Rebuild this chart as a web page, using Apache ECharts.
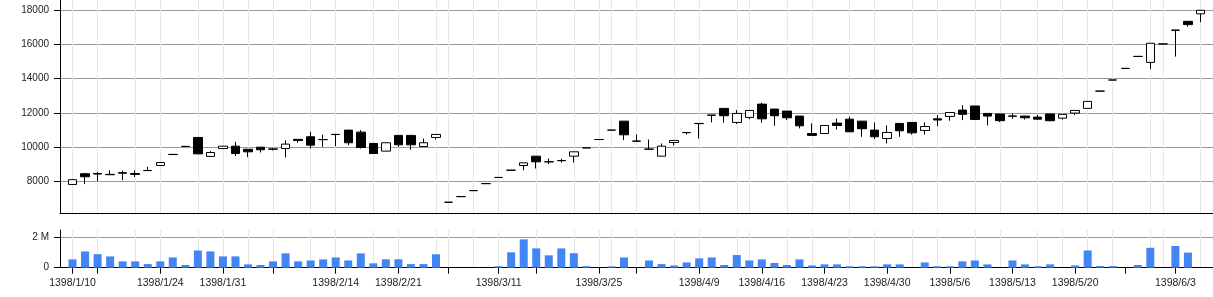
<!DOCTYPE html>
<html><head><meta charset="utf-8">
<script src="https://cdn.jsdelivr.net/npm/echarts@6/dist/echarts.min.js"></script>
<style>html,body{margin:0;padding:0;background:#fff}#c{width:1213px;height:297px}</style>
</head><body><div id="c"></div>
<script>
// Trading days (Jalali dates)
const dates = [
 '1398/1/10','1398/1/11','1398/1/17','1398/1/18','1398/1/19','1398/1/20','1398/1/21',
 '1398/1/24','1398/1/25','1398/1/26','1398/1/27','1398/1/28',
 '1398/1/31','1398/2/1','1398/2/2','1398/2/3',
 '1398/2/7','1398/2/8','1398/2/9','1398/2/10','1398/2/11',
 '1398/2/14','1398/2/15','1398/2/16','1398/2/17','1398/2/18',
 '1398/2/21','1398/2/22','1398/2/23','1398/2/24',
 '1398/2/28','1398/2/29','1398/2/30','1398/2/31',
 '1398/3/11','1398/3/12','1398/3/13',
 '1398/3/18','1398/3/19','1398/3/20','1398/3/21','1398/3/22',
 '1398/3/25','1398/3/26','1398/3/27',
 '1398/4/1','1398/4/2','1398/4/3','1398/4/4','1398/4/5',
 '1398/4/9','1398/4/10','1398/4/11','1398/4/12',
 '1398/4/15','1398/4/16','1398/4/17','1398/4/18','1398/4/19',
 '1398/4/22','1398/4/23','1398/4/24','1398/4/25','1398/4/26',
 '1398/4/29','1398/4/30','1398/4/31','1398/5/1','1398/5/2',
 '1398/5/5','1398/5/6','1398/5/7','1398/5/8','1398/5/9',
 '1398/5/12','1398/5/13','1398/5/14','1398/5/15','1398/5/16',
 '1398/5/19','1398/5/20','1398/5/21','1398/5/22','1398/5/23',
 '1398/5/27','1398/5/28','1398/5/29','1398/5/30',
 '1398/6/3','1398/6/4','1398/6/5'
];
const open  = [7810,8440,8450,8400,8500,8450,8630,8920,9570,10040,10560,9450,9910,10050,9870,9990,9890,9910,10450,10600,10440,10740,10990,10870,10210,9760,10680,10680,10030,10560,6770,7100,7450,7860,8220,8645,8920,9465,9140,9210,9465,9950,10440,10990,11515,10350,9880,9465,10265,10850,11380,11870,12260,11440,11730,12510,12220,12100,11810,10790,10790,11400,11630,11515,10990,10500,11380,11440,10970,11650,11790,12160,12400,11965,11930,11820,11810,11750,11930,11690,11985,12260,13270,13920,14600,15300,14950,16030,16840,17355,17790];
const close = [8090,8260,8420,8380,8470,8400,8620,9090,9560,10030,9600,9680,10050,9620,9720,9840,9870,10170,10380,10110,10430,10730,10250,9970,9620,10250,10130,10130,10250,10735,6770,7100,7450,7860,8220,8645,9075,9135,9130,9200,9720,9950,10440,10990,10715,10340,9870,10050,10385,10840,11370,11860,11830,11965,12140,11650,11830,11710,11240,10680,11260,11260,10890,11070,10600,10850,10950,10830,11200,11580,12020,11910,11610,11810,11540,11800,11710,11630,11540,11910,12140,12670,13270,13920,14600,15300,16070,16030,16830,17160,18000];
const low   = [7790,7830,8000,8370,8060,8250,8610,8910,9560,10030,9600,9450,9910,9480,9410,9680,9800,9390,10250,9910,10010,10050,10110,9910,9620,9760,10010,9840,10030,10440,6770,7100,7450,7860,8220,8645,8645,8745,8995,9100,9095,9950,10440,10990,10400,10340,9870,9465,10090,10735,10500,11440,11420,11340,11630,11420,11240,11575,11090,10680,10790,11020,10890,10600,10460,10210,10600,10735,10735,11220,11540,11575,11610,11260,11460,11650,11610,11575,11500,11610,11870,12260,13270,13920,14600,15300,14560,16030,15290,17040,17300];
const high  = [8110,8460,8530,8640,8610,8640,8840,9100,9570,10040,10560,9760,10060,10300,9880,9990,9950,10400,10460,10890,10720,10740,10990,10990,10210,10250,10680,10680,10500,10735,6770,7100,7450,7860,8220,8645,9075,9465,9330,9310,9720,9950,10440,10990,11515,10735,10440,10210,10385,10860,11380,11870,12260,12160,12140,12590,12220,12100,11810,11380,11260,11670,11770,11515,11440,11260,11380,11440,11440,11870,12020,12450,12400,11965,11930,11965,11820,11890,11930,11910,12140,12670,13270,13920,14600,15300,16070,16030,16840,17355,18000];
const volume = [550000,1080000,900000,750000,420000,420000,240000,420000,680000,180000,1140000,1080000,750000,750000,220000,180000,420000,950000,420000,480000,550000,680000,480000,950000,290000,560000,560000,240000,240000,890000,0,0,0,0,100000,1020000,1880000,1280000,820000,1280000,960000,100000,0,90000,680000,0,480000,240000,150000,350000,620000,680000,180000,840000,480000,550000,310000,180000,550000,150000,220000,220000,90000,90000,90000,220000,220000,0,350000,90000,90000,420000,480000,220000,0,480000,220000,90000,220000,0,150000,1140000,110000,110000,0,180000,1320000,0,1440000,1000000,0];

// Axis decorations (by date)
const labelDates = ['1398/1/10','1398/1/24','1398/1/31','1398/2/14','1398/2/21','1398/3/11','1398/3/25','1398/4/9','1398/4/16','1398/4/23','1398/4/30','1398/5/6','1398/5/13','1398/5/20','1398/6/3'];
const tickDates = labelDates.concat(['1398/1/17','1398/2/7','1398/2/28','1398/3/18','1398/4/1','1398/5/27']);
const gridDates = ['1398/1/10','1398/1/17','1398/1/20','1398/1/24','1398/1/27','1398/1/31','1398/2/2','1398/2/7','1398/2/10','1398/2/14','1398/2/17','1398/2/21','1398/2/24','1398/2/28','1398/2/30','1398/3/11','1398/3/18','1398/3/21','1398/3/25','1398/3/26','1398/4/1','1398/4/4','1398/4/9','1398/4/12','1398/4/15','1398/4/18','1398/4/22','1398/4/25','1398/4/29','1398/5/1','1398/5/5','1398/5/8','1398/5/12','1398/5/15','1398/5/19','1398/5/21','1398/5/23','1398/5/29','1398/5/30','1398/6/5'];
const priceTicks = [8000,10000,12000,14000,16000,18000];
const volumeTicks = [0,2000000];

const labelSet = new Set(labelDates), tickSet = new Set(tickDates), gridSet = new Set(gridDates);
const cats = [''].concat(dates, [' ']);
const pad = ['-','-','-','-'];
const candleData = [pad].concat(dates.map((d,i)=>[open[i],close[i],low[i],high[i]]), [pad]);
const volData = ['-'].concat(volume, ['-']);

const FONT = 'Liberation Sans, Arial, sans-serif';
const chart = echarts.init(document.getElementById('c'), null, {renderer:'canvas'});
chart.setOption({
  animation:false,
  backgroundColor:'#fff',
  grid:[
    {left:60, right:0, top:0, height:213.7},
    {left:60, right:0, top:230, height:37.7}
  ],
  xAxis:[
    {type:'category', gridIndex:0, data:cats, boundaryGap:false,
     axisLine:{lineStyle:{color:'#000', width:1}}, axisTick:{show:false}, axisLabel:{show:false},
     splitLine:{show:true, interval:(i,v)=>gridSet.has(v), lineStyle:{color:'#e6e6e6', width:1}}},
    {type:'category', gridIndex:1, data:cats, boundaryGap:false,
     axisLine:{lineStyle:{color:'#000', width:1}},
     axisTick:{show:true, length:6, interval:(i,v)=>tickSet.has(v), lineStyle:{color:'#000'}},
     axisLabel:{interval:(i,v)=>labelSet.has(v), fontSize:10.5, color:'#222', margin:10, fontFamily:FONT},
     splitLine:{show:true, interval:(i,v)=>gridSet.has(v), lineStyle:{color:'#e6e6e6', width:1}}}
  ],
  yAxis:[
    {type:'value', gridIndex:0, min:6100, max:18600,
     axisLine:{show:true, lineStyle:{color:'#000', width:1}},
     axisTick:{show:true, length:6, customValues:priceTicks, lineStyle:{color:'#000'}},
     axisLabel:{customValues:priceTicks, fontSize:10, color:'#222', margin:11, fontFamily:FONT,
       formatter:v=>String(v)},
     splitLine:{show:true, lineStyle:{color:'#999', width:1}}},
    {type:'value', gridIndex:1, min:0, max:2500000,
     axisLine:{show:true, lineStyle:{color:'#000', width:1}},
     axisTick:{show:true, length:6, customValues:volumeTicks, lineStyle:{color:'#000'}},
     axisLabel:{customValues:volumeTicks, fontSize:10, color:'#222', margin:11, fontFamily:FONT,
       formatter:v=> v===0 ? '0' : (v/1e6)+' M'},
     splitLine:{show:true, showMinLine:false, lineStyle:{color:'#999', width:1}}}
  ],
  series:[
    {type:'candlestick', xAxisIndex:0, yAxisIndex:0, data:candleData, barWidth:9,
     itemStyle:{color:'#fff', color0:'#000', borderColor:'#000', borderColor0:'#000', borderWidth:1}},
    {type:'bar', xAxisIndex:1, yAxisIndex:1, data:volData, barWidth:8,
     itemStyle:{color:'#4285f4'}}
  ]
});
</script></body></html>
